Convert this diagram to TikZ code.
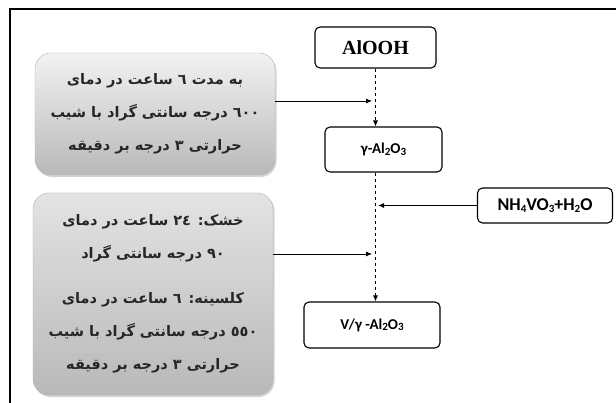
\documentclass[tikz,border=0pt]{standalone}
\usepackage{fontspec}
\usepackage{tikz}
\usetikzlibrary{arrows.meta,shadows}

\TeXXeTstate=1
\newfontfamily\arabicfont[Script=Arabic]{DejaVu Sans}
\newfontfamily\calfont{Carlito}
\newfontfamily\timesfont{Liberation Serif}

\newcommand{\sub}[1]{\raisebox{-0.2ex}{\fontsize{11}{11}\selectfont #1}}

\tikzset{
    chem/.style={draw, line width=1.1pt, rounded corners=5pt, fill=white, inner sep=0pt,
        font=\calfont\bfseries\fontsize{15}{18}\selectfont},
    heat/.style={draw=gray!60, rounded corners=16pt, inner sep=0pt, align=center,
        top color=gray!10, bottom color=gray!55,
        drop shadow={opacity=0.35, shadow xshift=1.5pt, shadow yshift=-2pt},
        text=black!85, font=\arabicfont\bfseries\fontsize{14.5}{33}\selectfont},
    flow/.style={-{Latex[length=6pt,width=5pt]}, line width=0.8pt},
    dflow/.style={flow, dashed}
}

\begin{document}
\begin{tikzpicture}[x=1pt, y=-1pt]

\useasboundingbox (0,0) rectangle (616,403);

\draw[line width=2pt] (10,403) -- (10,9) -- (616,9);

\node[chem, minimum width=121pt, minimum height=41pt,
    font=\timesfont\bfseries\fontsize{20}{22}\selectfont] (alooh) at (375.5,47.5) {AlOOH};

\node[chem, minimum width=117pt, minimum height=45pt] (gamma) at (383.5,149.5)
    {γ-Al\sub{2}O\sub{3}};

\node[chem, minimum width=135pt, minimum height=35pt,
    font=\calfont\bfseries\fontsize{18}{20}\selectfont] (nhvo) at (545,205.5)
    {NH\sub{4}VO\sub{3}+H\sub{2}O};

\node[chem, minimum width=136pt, minimum height=46pt] (vgamma) at (372,325)
    {V/γ -Al\sub{2}O\sub{3}};

\node[heat, minimum width=240pt, minimum height=122pt] (heat1) at (155,114)
    {\beginR به مدت ٦ ساعت در دمای\endR\\
     \beginR\beginL ٦٠٠\endL{} درجه سانتی گراد با شیب\endR\\
     \beginR حرارتی ٣ درجه بر دقیقه\endR};

\node[heat, minimum width=240pt, minimum height=202pt, top color=gray!22] (heat2) at (153,294)
    {\beginR خشک: \beginL ٢٤\endL{} ساعت در دمای\endR\\
     \beginR\beginL ٩٠\endL{} درجه سانتی گراد\endR\\[12pt]
     \beginR کلسینه: ٦ ساعت در دمای\endR\\
     \beginR\beginL ٥٥٠\endL{} درجه سانتی گراد با شیب\endR\\
     \beginR حرارتی ٣ درجه بر دقیقه\endR};

\coordinate (in1) at (372,101);
\coordinate (in2) at (372,254);
\coordinate (in3) at (378,205.5);

\draw[dflow] (alooh.south) -- (alooh.south |- gamma.north);

\draw[dflow] (alooh.south |- gamma.south) -- (alooh.south |- vgamma.north);

\draw[flow] (heat1.east |- in1) -- (in1);

\draw[flow] (heat2.east |- in2) -- (in2);

\draw[flow] (nhvo.west |- in3) -- (in3);

\end{tikzpicture}
\end{document}
